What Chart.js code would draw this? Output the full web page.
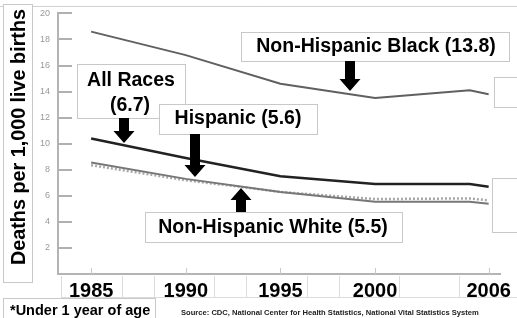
<!DOCTYPE html>
<html>
<head>
<meta charset="utf-8">
<script src="https://cdn.jsdelivr.net/npm/chart.js@4"></script>
<style>
  html, body { margin: 0; padding: 0; background: #fff; }
  #wrap { width: 517px; height: 318px; position: relative; }
</style>
</head>
<body>
<div id="wrap"><canvas id="c" width="517" height="318"></canvas></div>
<script>
const years = [1985, 1990, 1995, 2000, 2005, 2006];
const nhBlack = [18.6, 16.8, 14.6, 13.5, 14.1, 13.8];
const allRaces = [10.4, 8.9, 7.5, 6.9, 6.9, 6.7];
const hispanic = [8.55, 7.3, 6.3, 5.55, 5.55, 5.4];
const nhWhite = [8.35, 7.2, 6.3, 5.75, 5.8, 5.65];
const tickYears = [1985, 1990, 1995, 2000, 2006];
const yTicks = [0, 2, 4, 6, 8, 10, 12, 14, 16, 18, 20];

const FONT = '"Liberation Sans", Arial, sans-serif';
const pts = arr => arr.map((v, i) => ({ x: years[i], y: v }));

function box(ctx, x, y, w, h) {
  ctx.save();
  ctx.fillStyle = '#fff';
  ctx.strokeStyle = '#c8c8c8';
  ctx.lineWidth = 1;
  ctx.fillRect(x, y, w, h);
  ctx.strokeRect(x + 0.5, y + 0.5, w, h);
  ctx.restore();
}

function arrow(ctx, cx, y0, y1) {
  // y0 = base, y1 = tip
  const dir = y1 > y0 ? 1 : -1;
  const headLen = 12, shaftW = 10, headW = 21;
  ctx.save();
  ctx.fillStyle = '#000';
  ctx.beginPath();
  ctx.moveTo(cx - shaftW / 2, y0);
  ctx.lineTo(cx + shaftW / 2, y0);
  ctx.lineTo(cx + shaftW / 2, y1 - dir * headLen);
  ctx.lineTo(cx + headW / 2, y1 - dir * headLen);
  ctx.lineTo(cx, y1);
  ctx.lineTo(cx - headW / 2, y1 - dir * headLen);
  ctx.lineTo(cx - shaftW / 2, y1 - dir * headLen);
  ctx.closePath();
  ctx.fill();
  ctx.restore();
}

const overlay = {
  id: 'overlay',
  beforeDraw(chart) {
    const ctx = chart.ctx;
    ctx.save();
    // title rule at top
    ctx.strokeStyle = '#d0d0d0';
    ctx.lineWidth = 1;
    ctx.beginPath();
    ctx.moveTo(0, 6.5); ctx.lineTo(517, 6.5);
    ctx.stroke();
    // x label cells
    ctx.strokeStyle = '#dcdcdc';
    ctx.beginPath();
    [61, 122, 154, 214, 246, 307, 339, 399, 459].forEach(x => {
      ctx.moveTo(x + 0.5, 276); ctx.lineTo(x + 0.5, 297);
    });
    ctx.moveTo(61, 297.5); ctx.lineTo(517, 297.5);
    ctx.stroke();
    ctx.restore();
  },
  afterDatasetsDraw(chart) {
    const ctx = chart.ctx;
    const xs = chart.scales.x, ys = chart.scales.y;
    ctx.save();
    // inward y tick marks
    ctx.strokeStyle = '#b0b0b0';
    ctx.lineWidth = 2;
    ctx.beginPath();
    yTicks.slice(1).forEach(v => {
      const y = Math.round(ys.getPixelForValue(v));
      ctx.moveTo(xs.left, y); ctx.lineTo(xs.left + 14, y);
    });
    ctx.stroke();
    // small x tick marks
    ctx.strokeStyle = '#c8c8c8';
    ctx.lineWidth = 1;
    ctx.beginPath();
    tickYears.forEach(v => {
      const x = Math.round(xs.getPixelForValue(v)) + 0.5;
      ctx.moveTo(x, ys.bottom); ctx.lineTo(x, ys.bottom - 6);
    });
    ctx.stroke();

    // y axis title box
    box(ctx, 3, 4, 29, 278);
    ctx.save();
    ctx.translate(18, 137);
    ctx.rotate(-Math.PI / 2);
    ctx.fillStyle = '#000';
    ctx.font = 'bold 20px ' + FONT;
    ctx.textAlign = 'center';
    ctx.textBaseline = 'middle';
    ctx.fillText('Deaths per 1,000 live births', 0, 1, 256);
    ctx.restore();

    ctx.font = 'bold 19.5px ' + FONT;
    ctx.textAlign = 'center';
    ctx.textBaseline = 'middle';

    // Non-Hispanic Black
    box(ctx, 241, 32, 268, 29);
    ctx.fillStyle = '#000';
    ctx.fillText('Non-Hispanic Black (13.8)', 376, 47);
    arrow(ctx, 350, 61, 91);

    // All Races
    box(ctx, 77, 64, 108, 54);
    ctx.fillStyle = '#000';
    ctx.fillText('All Races', 131, 81);
    ctx.fillText('(6.7)', 130, 106);
    arrow(ctx, 124, 118, 143);

    // Hispanic
    box(ctx, 159, 104, 158, 30);
    ctx.fillStyle = '#000';
    ctx.fillText('Hispanic (5.6)', 238, 119);
    arrow(ctx, 195, 134, 177);

    // Non-Hispanic White
    box(ctx, 145, 212, 257, 30);
    ctx.fillStyle = '#000';
    ctx.fillText('Non-Hispanic White (5.5)', 273, 228);
    arrow(ctx, 241, 212, 188);

    // empty boxes on right
    box(ctx, 494, 77, 30, 30);
    box(ctx, 492, 178, 30, 54);

    // footnotes
    box(ctx, 3, 298, 152, 24);
    ctx.fillStyle = '#000';
    ctx.font = 'bold 14.5px ' + FONT;
    ctx.textAlign = 'left';
    ctx.fillText('*Under 1 year of age', 10, 311, 142);
    ctx.font = 'bold 7.6px ' + FONT;
    ctx.fillStyle = '#222';
    ctx.fillText('Source: CDC, National Center for Health Statistics, National Vital Statistics System', 181, 313, 322);
    ctx.restore();
  }
};

new Chart(document.getElementById('c'), {
  type: 'line',
  data: {
    datasets: [
      { label: 'Non-Hispanic Black', data: pts(nhBlack), borderColor: '#606060', borderWidth: 2 },
      { label: 'All Races', data: pts(allRaces), borderColor: '#222', borderWidth: 2.5 },
      { label: 'Hispanic', data: pts(hispanic), borderColor: '#777', borderWidth: 2 },
      { label: 'Non-Hispanic White', data: pts(nhWhite), borderColor: '#a8a8a8', borderWidth: 2.5, borderDash: [2, 2] }
    ]
  },
  options: {
    responsive: false,
    animation: false,
    layout: { padding: { top: 10, right: 17, left: 0, bottom: 0 } },
    elements: {
      point: { radius: 0 },
      line: { tension: 0, fill: false }
    },
    plugins: {
      legend: { display: false },
      tooltip: { enabled: false }
    },
    scales: {
      x: {
        type: 'linear',
        min: 1983.25,
        max: 2006.6,
        afterFit: s => { s.height = 44; },
        afterBuildTicks: s => { s.ticks = tickYears.map(v => ({ value: v })); },
        grid: { drawOnChartArea: false, drawTicks: false },
        border: { color: '#b4b4b4', width: 2 },
        ticks: {
          padding: 5,
          autoSkip: false,
          maxRotation: 0,
          color: '#000',
          font: { family: FONT, size: 20, weight: 'bold' },
          callback: v => String(v)
        }
      },
      y: {
        min: 0,
        max: 20,
        afterFit: s => { s.width = 58; },
        afterBuildTicks: s => { s.ticks = yTicks.map(v => ({ value: v })); },
        grid: { drawOnChartArea: false, drawTicks: false },
        border: { color: '#b4b4b4', width: 2 },
        ticks: {
          padding: 8,
          color: '#999',
          font: { family: FONT, size: 9 },
          callback: v => v === 0 ? '' : v
        }
      }
    }
  },
  plugins: [overlay]
});
</script>
</body>
</html>
